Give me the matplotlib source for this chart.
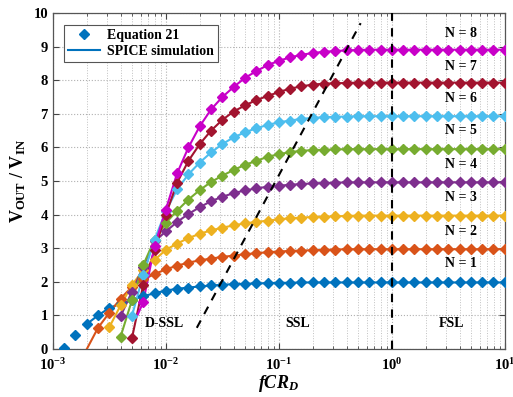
import numpy as np
import matplotlib
matplotlib.use("Agg")
import matplotlib.pyplot as plt
from matplotlib.ticker import FuncFormatter, NullFormatter
from matplotlib.lines import Line2D

plt.rcParams['font.family'] = ['Liberation Serif', 'DejaVu Serif']
plt.rcParams['mathtext.fontset'] = 'custom'
plt.rcParams['mathtext.rm'] = 'Liberation Serif:bold'
plt.rcParams['mathtext.bf'] = 'Liberation Serif:bold'
plt.rcParams['mathtext.it'] = 'Liberation Serif:italic:bold'

# ---- data (log10 of fCR_D start exponent, VOUT/VIN values at 0.1-decade steps) ----
n1_start, n1_vals = -2.9, [0.02, 0.42, 0.74, 1.0, 1.22, 1.35, 1.46, 1.57, 1.66, 1.74, 1.79, 1.83, 1.86, 1.89,
                           1.91, 1.93, 1.94, 1.95, 1.96, 1.97, 1.97] + [1.98] * 19
n2_start, n2_vals = -2.6, [0.63, 1.08, 1.5, 1.85, 2.07, 2.23, 2.37, 2.48, 2.57, 2.64, 2.69, 2.74, 2.78, 2.82,
                           2.85, 2.88, 2.9, 2.92, 2.93, 2.94, 2.95, 2.96] + [2.97] * 15
n3_start, n3_vals = -2.5, [0.65, 1.3, 1.9, 2.35, 2.65, 2.95, 3.14, 3.3, 3.43, 3.53, 3.61, 3.68, 3.74, 3.78,
                           3.82, 3.86, 3.89, 3.91, 3.93, 3.94, 3.95, 3.96] + [3.97] * 14
n4_start, n4_vals = -2.4, [0.98, 1.7, 2.45, 3.2, 3.5, 3.78, 4.02, 4.22, 4.4, 4.53, 4.64, 4.72, 4.78, 4.83,
                           4.86, 4.89, 4.91, 4.93, 4.94, 4.95] + [4.96] * 15
n5_start, n5_vals = -2.4, [0.37, 1.45, 2.5, 3.25, 3.75, 4.12, 4.45, 4.73, 4.97, 5.16, 5.33, 5.48, 5.6, 5.72,
                           5.8, 5.86, 5.9, 5.92, 5.93, 5.94] + [5.95] * 15
n6_start, n6_vals = -2.3, [0.98, 2.2, 3.25, 4.1, 4.75, 5.2, 5.55, 5.85, 6.1, 6.3, 6.45, 6.57, 6.67, 6.75,
                           6.8, 6.85, 6.88, 6.9, 6.91, 6.92] + [6.93] * 14
n7_start, n7_vals = -2.3, [0.32, 1.9, 2.95, 4.0, 4.95, 5.6, 6.1, 6.5, 6.82, 7.07, 7.25, 7.41, 7.53, 7.65,
                           7.75, 7.82, 7.87, 7.9, 7.91, 7.92] + [7.93] * 14
n8_start, n8_vals = -2.2, [1.4, 3.06, 4.15, 5.23, 6.0, 6.63, 7.13, 7.5, 7.8, 8.07, 8.27, 8.45, 8.58, 8.68,
                           8.76, 8.81, 8.85, 8.87, 8.89, 8.9] + [8.91] * 13

# SPICE line: index of first marker the line passes through, plus optional lead point
spice_first = [2, 0, 0, 0, 0, 0, 0, 0]
spice_lead = {1: (2.0e-3, 0.0), 7: (5.6e-3, 1.0)}

series = [(n1_start, n1_vals), (n2_start, n2_vals), (n3_start, n3_vals), (n4_start, n4_vals),
          (n5_start, n5_vals), (n6_start, n6_vals), (n7_start, n7_vals), (n8_start, n8_vals)]
colors = ['#0072BD', '#D95319', '#EDB120', '#7E2F8E', '#77AC30', '#4DBEEE', '#A2142F', '#C800C8']
labels_N = ['N = 1', 'N = 2', 'N = 3', 'N = 4', 'N = 5', 'N = 6', 'N = 7', 'N = 8']
label_y = [2.53, 3.49, 4.52, 5.5, 6.49, 7.47, 8.42, 9.4]
label_x = 4.1

diag_x = [0.0188, 0.53]
diag_y = [0.63, 9.70]
fsl_x = 1.0

regions = ['D-SSL', 'SSL', 'FSL']
region_x = [0.0098, 0.148, 3.4]
region_y = [0.77, 0.77, 0.77]

# ---- figure ----
fig = plt.figure(figsize=(5.13, 3.97), dpi=100)
ax = fig.add_axes([0.103, 0.121, 0.881, 0.846])

for i, ((s, vals), c) in enumerate(zip(series, colors)):
    vals = np.array(vals)
    x = 10 ** (s + 0.1 * np.arange(len(vals)))
    lx = list(x[spice_first[i]:])
    ly = list(vals[spice_first[i]:])
    if i in spice_lead:
        lx = [spice_lead[i][0]] + lx
        ly = [spice_lead[i][1]] + ly
    ax.plot(lx, ly, '-', color=c, lw=1.5, zorder=3)
    ax.plot(x, vals, 'D', color=c, ms=4.8, mec=c, zorder=4)

ax.plot(diag_x, diag_y, '--', color='black', lw=1.5, dashes=(4, 3.5), zorder=5)
ax.plot([fsl_x, fsl_x], [0, 10], '--', color='black', lw=1.5, dashes=(4, 3.5), zorder=5)

for t, yy in zip(labels_N, label_y):
    ax.text(label_x, yy, t, ha='center', va='center', fontsize=10, fontweight='bold')
for t, xx, yy in zip(regions, region_x, region_y):
    ax.text(xx, yy, t, ha='center', va='center', fontsize=10, fontweight='bold')

ax.set_xscale('log')
ax.set_xlim(1e-3, 10)
ax.set_ylim(0, 10)
ax.set_yticks(range(0, 11))
ax.set_xticks([1e-3, 1e-2, 1e-1, 1e0, 1e1])
ax.xaxis.set_major_formatter(FuncFormatter(lambda v, p: r'$\mathbf{10^{%d}}$' % int(round(np.log10(v)))))
ax.xaxis.set_minor_formatter(NullFormatter())
for lab in ax.get_yticklabels():
    lab.set_fontweight('bold')
ax.tick_params(axis='both', which='major', labelsize=10.5, direction='in', length=4, color='#444444')
ax.tick_params(axis='x', which='major', pad=6)
ax.tick_params(axis='x', which='minor', direction='in', length=2.5, color='#444444')
ax.tick_params(top=True, right=True, which='both')

ax.grid(True, which='major', linestyle=':', color='#b0b0b0', lw=0.8)
ax.grid(True, which='minor', axis='x', linestyle=':', color='#c0c0c0', lw=0.7)
ax.set_axisbelow(True)
for sp in ax.spines.values():
    sp.set_color('#555555')
    sp.set_linewidth(0.9)

ax.set_xlabel(r'$fCR_D$', fontsize=13, labelpad=0)
ax.set_ylabel(r'$\mathbf{V_{OUT}\ /\ V_{IN}}$', fontsize=13, labelpad=4)

handles = [Line2D([], [], color=colors[0], marker='D', ls='none', ms=4.8),
           Line2D([], [], color=colors[0], lw=1.5)]
leg = ax.legend(handles, ['Equation 21', 'SPICE simulation'], loc='upper left',
                bbox_to_anchor=(0.01, 0.985), fancybox=False, framealpha=1,
                edgecolor='#555555', prop={'weight': 'bold', 'size': 10},
                handlelength=2.3, handletextpad=0.5, borderpad=0.3, labelspacing=0.2)
leg.get_frame().set_linewidth(0.8)

fig.savefig('out.png', dpi=100)
